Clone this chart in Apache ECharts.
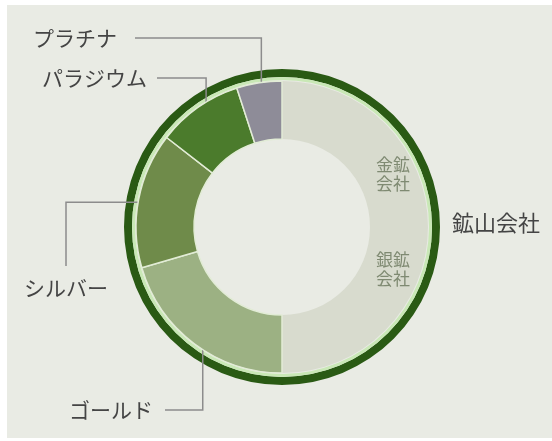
<!DOCTYPE html>
<html>
<head>
<meta charset="utf-8">
<script src="https://cdn.jsdelivr.net/npm/echarts@6/dist/echarts.min.js"></script>
<style>html,body{margin:0;padding:0;background:#ffffff;}#c{width:552px;height:441px;}</style>
</head>
<body>
<div id="c"></div>
<script>
// ---- data ----
const categories = ['金鉱会社', '銀鉱会社', 'ゴールド', 'シルバー', 'パラジウム', 'プラチナ'];
const shares = [25, 25, 20.5, 15, 9.5, 5];
const ringCategories = ['鉱山会社'];
const ringValues = [100];

// ---- layout / style ----
const FONT = "'Noto Sans CJK JP', 'Noto Sans', sans-serif";
const cx = 282, cy = 227, rIn = 88, rOut = 146;
const colors = ['#d8dbce', '#d8dbce', '#9cb183', '#6f8b4a', '#4b7b2c', '#8e8c98'];
// label placement (relative to the chart centre)
const spots = {
  '金鉱会社': { dx: 111, dy: -53, inner: true },
  '銀鉱会社': { dx: 111, dy: 42, inner: true },
  'ゴールド': { dx: -129, dy: 183, elbow: 'v', gap: 12, align: 'right' },
  'シルバー': { dx: -216, dy: 61, elbow: 'h', gap: 10, align: 'center' },
  'パラジウム': { dx: -135, dy: -149, elbow: 'v', gap: 10, align: 'right' },
  'プラチナ': { dx: -165, dy: -189, elbow: 'v', gap: 18, align: 'right' }
};

const total = shares.reduce((a, b) => a + b, 0);
const midAngles = [];
let acc = 0;
shares.forEach(v => { midAngles.push((acc + v / 2) / total * 2 * Math.PI); acc += v; });

function startPoint(i) {
  const r = 132;
  const a = midAngles[i];
  return [cx + r * Math.sin(a), cy - r * Math.cos(a)];
}

const chart = echarts.init(document.getElementById('c'), null, { renderer: 'canvas' });

const option = {
  backgroundColor: '#ffffff',
  animation: false,
  graphic: [{
    type: 'rect', z: -10, silent: true,
    shape: { x: 7, y: 5, width: 545, height: 433 },
    style: { fill: '#e9ebe4' }
  }],
  series: [
    {
      type: 'pie', z: 1, silent: true,
      center: [cx, cy], radius: [150, 158],
      startAngle: 90, clockwise: true,
      itemStyle: { color: '#2a5a14', borderWidth: 0 },
      label: { show: true, position: 'outside', color: '#444444', fontSize: 22, fontFamily: FONT },
      labelLine: { show: false },
      labelLayout: function () {
        return { x: cx + 170, y: cy - 4, align: 'left', verticalAlign: 'middle' };
      },
      emphasis: { disabled: true },
      data: ringCategories.map((n, i) => ({ name: n, value: ringValues[i] }))
    },
    {
      type: 'pie', z: 1, silent: true,
      center: [cx, cy], radius: [147, 150],
      startAngle: 90,
      itemStyle: { color: '#c9e8b6', borderWidth: 0 },
      label: { show: false }, labelLine: { show: false },
      emphasis: { disabled: true },
      data: ringCategories.map((n, i) => ({ name: n, value: ringValues[i] }))
    },
    {
      type: 'pie', z: 3,
      center: [cx, cy], radius: [rIn, rOut],
      startAngle: 90, clockwise: true,
      avoidLabelOverlap: false,
      emphasis: { disabled: true },
      label: {
        show: true, position: 'outside',
        color: '#444444', fontSize: 21, fontFamily: FONT,
        formatter: p => p.name
      },
      labelLine: { show: true, lineStyle: { color: '#8c8c8c', width: 1.5 } },
      labelLayout: function (params) {
        const i = params.dataIndex;
        const s = spots[categories[i]];
        const x = cx + s.dx, y = cy + s.dy;
        if (s.inner) {
          return { x: x, y: y, align: 'center', verticalAlign: 'middle' };
        }
        const p0 = startPoint(i);
        let pts;
        if (s.elbow === 'v') {
          pts = [p0, [p0[0], y], [x + s.gap, y]];
        } else {
          pts = [p0, [x, p0[1]], [x, y - s.gap - 12]];
        }
        return { x: x, y: y, align: s.align, verticalAlign: 'middle', labelLinePoints: pts };
      },
      data: categories.map((n, i) => {
        const item = {
          name: n, value: shares[i],
          itemStyle: { color: colors[i], borderColor: '#e2ecd6', borderWidth: 1.5 }
        };
        if (spots[n].inner) {
          item.itemStyle.borderWidth = 0;
          item.label = {
            position: 'inside', color: '#7f8a72', fontSize: 17, lineHeight: 19,
            formatter: p => p.name.slice(0, 2) + '\n' + p.name.slice(2)
          };
          item.labelLine = { show: false };
        }
        return item;
      })
    }
  ]
};
chart.setOption(option);
</script>
</body>
</html>
